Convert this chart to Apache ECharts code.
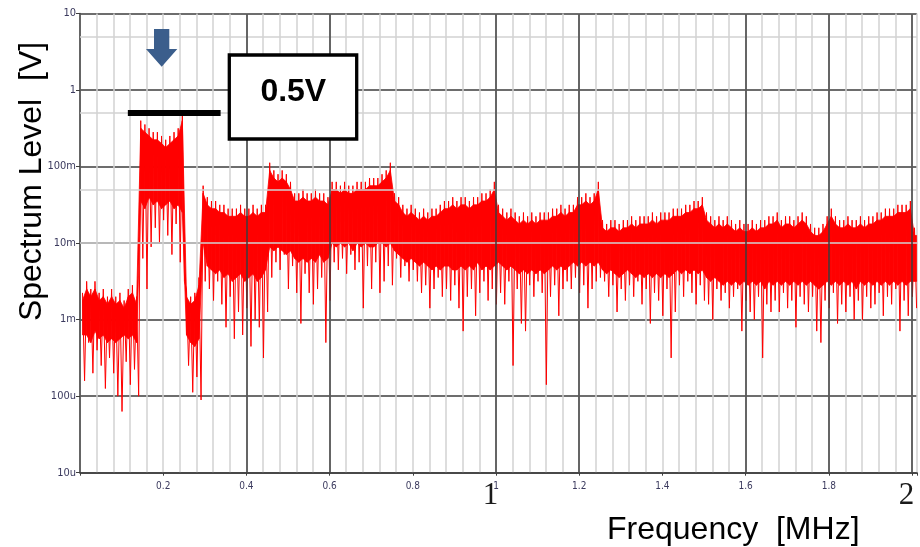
<!DOCTYPE html>
<html>
<head>
<meta charset="utf-8">
<script src="https://cdn.jsdelivr.net/npm/echarts@6/dist/echarts.min.js"></script>
<style>
  html, body { margin: 0; padding: 0; background: #fff; }
  #chart { width: 920px; height: 547px; }
</style>
</head>
<body>
<div id="chart"></div>
<script>
// Spectrum sweep: 0.01 MHz bins starting at 6 kHz, levels in dBV
const SWEEP_START_MHZ = 0.006;
const BIN_MHZ = 0.01;

// Upper envelope of each bin (dBV)
const peakDbv = [
  -53,-50,-52,-50,-53,-52,-54,-52,-54,-53,-55,-52,-51,-54,
  -8,-9,-10,-11,-11,-12,-13,-12,-11,-10,-6,
  -52,-54,-53,-49,
  -25,-28,-29,-29,-30,-30,-31,-31,-31,-30,-31,-31,-30,-31,-30,-30,
  -19,-21,-22,-21,-22,-24,-27,-27,-26,-27,-27,-26,-27,-27,-28,
  -24,-24,-25,-24,-25,-25,-24,-24,-24,-23,-23,-23,-22,-21,-19,
  -27,-28,-30,-31,-30,-31,-32,-31,-32,-31,-31,-30,-29,-29,-28,-29,-28,-28,-29,-28,-28,-27,-27,-26,-24,
  -30,-31,-32,-31,-32,-33,-32,-33,-32,-33,-32,-32,-32,-31,-31,-30,-31,-30,-30,-28,-28,-27,-28,-27,-24,
  -34,-35,-34,-34,-35,-34,-34,-33,-34,-33,-33,-33,-32,-33,-32,-32,-32,-31,-31,-31,-30,-30,-29,-29,-28,
  -32,-33,-34,-33,-34,-33,-34,-35,-34,-35,
  -35,-34,-35,-34,-34,-33,-33,-32,-34,-33,
  -33,-34,-33,-32,-33,-35,-36,-36,-35,-33,
  -31,-33,-34,-34,-33,-34,-34,-33,-34,-33,
  -33,-32,-32,-31,-31,-31,-30,-30,-30,-29,
  -36
];

// Lower edge of the dense noise band in each bin (dBV)
const floorDbv = [
  -64,-64,-66,-63,-65,-64,-66,-65,-66,-65,-64,-65,-64,-66,
  -29,-31,-28,-30,-29,-31,-30,-29,-31,-30,-32,
  -64,-66,-67,-65,
  -40,-46,-47,-48,-47,-49,-48,-50,-49,-48,-50,-49,-48,-50,-49,-47,
  -41,-42,-41,-42,-43,-42,-44,-45,-44,-45,-44,-45,-43,-45,-44,
  -40,-41,-40,-41,-40,-42,-40,-41,-40,-41,-41,-40,-40,-41,-40,
  -42,-43,-44,-45,-44,-45,-46,-45,-46,-47,-46,-47,-46,-46,-47,-47,-46,-47,-46,-47,-45,-47,-46,-47,-46,
  -45,-46,-47,-46,-47,-48,-47,-48,-47,-48,-47,-48,-47,-46,-47,-46,-47,-46,-45,-46,-45,-46,-45,-46,-45,
  -47,-48,-47,-48,-49,-48,-47,-48,-49,-48,-49,-48,-49,-48,-49,-48,-49,-48,-47,-48,-47,-48,-47,-48,-47,
  -49,-50,-49,-50,-51,-50,-51,-50,-51,-50,
  -51,-50,-51,-50,-52,-50,-51,-50,-51,-50,
  -51,-50,-51,-50,-51,-50,-51,-52,-51,-50,
  -51,-50,-51,-50,-51,-50,-52,-50,-51,-50,
  -51,-50,-51,-50,-51,-50,-51,-50,-51,-50,
  -50
];

// Deepest dip reached within each bin (dBV)
const dipDbv = [
  -76,-66,-74,-68,-72,-78,-70,-74,-80,-84,-71,-77,-73,-80,
  -44,-52,-41,-36,-40,-34,-38,-43,-35,-45,-50,
  -72,-79,-75,-81,
  -50,-52,-55,-50,-56,-62,-54,-65,-58,-64,-57,-67,-60,-62,-70,-58,
  -49,-45,-47,-43,-52,-46,-53,-61,-48,-53,-56,-52,-49,-66,-55,
  -45,-47,-44,-48,-43,-47,-45,-57,-46,-52,-45,-53,-50,-46,-51,
  -44,-49,-46,-50,-47,-50,-53,-51,-57,-52,-49,-54,-52,-55,-51,-57,-63,-54,-52,-59,-53,-50,-55,-52,-56,
  -53,-56,-50,-72,-52,-61,-63,-51,-54,-50,-53,-77,-54,-51,-59,-52,-50,-52,-49,-53,-51,-57,-52,-50,-49,
  -50,-54,-51,-58,-52,-55,-51,-54,-50,-56,-52,-61,-53,-55,-59,-52,-70,-58,-51,-54,-50,-53,-56,-51,-55,
  -56,-60,-52,-55,-53,-57,-54,-52,-63,-55,
  -58,-60,-54,-70,-56,-58,-55,-58,-53,-57,
  -55,-62,-54,-56,-58,-54,-63,-66,-55,-57,
  -53,-61,-56,-58,-54,-60,-55,-60,-54,-57,
  -56,-53,-59,-54,-56,-52,-63,-55,-59,-54,
  -57
];

// Axis tick labels
const yTickLabels = ['10u', '100u', '1m', '10m', '100m', '1', '10'];
const xTickLabels = ['', '0.2', '0.4', '0.6', '0.8', '1', '1.2', '1.4', '1.6', '1.8', ''];
const xBigLabels = ['', '', '', '', '', '1', '', '', '', '', '2'];

// Grid lines
const halfDecadeVolts = [5e-5, 5e-4, 5e-3, 5e-2, 0.5, 5];
const heavyFreqLinesMHz = [0.4, 0.6, 1.0, 1.2, 1.6, 1.8, 2.0];

// Limit marker
const limitVolts = 0.5;
const limitSpanMHz = [0.115, 0.338];
const limitText = '0.5V';

// The solid part of the band stops a little under the spike tips
const SOLID_BELOW_PEAK_DB = 2;

const toVolts = d => Math.pow(10, d / 20);
const binFreq = i => SWEEP_START_MHZ + BIN_MHZ * i;

// [frequency, solid-top volts, floor volts] per bin
const bandItems = peakDbv.map((d, i) => [binFreq(i), toVolts(d - SOLID_BELOW_PEAK_DB), toVolts(floorDbv[i])]);
// Trace alternates between each bin's peak and its dip half a bin later
const traceData = [];
peakDbv.forEach((d, i) => {
  traceData.push([binFreq(i), toVolts(d)]);
  traceData.push([binFreq(i) + BIN_MHZ / 2, toVolts(dipDbv[i])]);
});

const RED = '#ff0000';
const DARK = '#3d3d3d';
const LIGHT = '#d2d2d2';
const TICK_FONT = '"Liberation Sans Narrow", "DejaVu Sans Condensed", "Liberation Sans", sans-serif';
const TICK_COLOR = '#3b3a5e';

const labelFor = (arr) => (v) => {
  const k = Math.round(v / 0.2);
  return Math.abs(v - k * 0.2) < 1e-6 && arr[k] !== undefined ? arr[k] : '';
};

const chart = echarts.init(document.getElementById('chart'), null, { renderer: 'canvas' });

chart.setOption({
  animation: false,
  backgroundColor: '#fff',
  grid: { left: 80, right: 1.7, top: 13.5, bottom: 74.3, containLabel: false },
  xAxis: [
    {
      type: 'value', min: 0, max: 2.012, interval: 0.2,
      axisLine: { show: true, onZero: false, lineStyle: { color: DARK, width: 1.5 } },
      axisTick: { show: true, length: 3, lineStyle: { color: DARK } },
      splitLine: { show: true, lineStyle: { color: LIGHT, width: 1.5 } },
      minorTick: { show: false, splitNumber: 5 },
      minorSplitLine: { show: true, lineStyle: { color: LIGHT, width: 1.5 } },
      axisLabel: {
        formatter: labelFor(xTickLabels), margin: 9,
        fontSize: 10, fontFamily: TICK_FONT, color: TICK_COLOR
      }
    },
    {
      type: 'value', min: 0, max: 2.012, interval: 0.2, position: 'bottom',
      axisLine: { show: false }, axisTick: { show: false }, splitLine: { show: false },
      axisLabel: {
        formatter: labelFor(xBigLabels), margin: 8, padding: [0, 11, 0, 0],
        fontSize: 31, fontFamily: '"Liberation Serif", "DejaVu Serif", serif', color: '#1a1a1a'
      }
    }
  ],
  yAxis: {
    type: 'log', logBase: 10, min: 1e-5, max: 10, interval: 1, splitNumber: 6,
    axisLine: { show: true, lineStyle: { color: DARK, width: 1.5 } },
    axisTick: { show: true, length: 4, lineStyle: { color: DARK } },
    splitLine: { show: true, lineStyle: { color: DARK, width: 1.5 } },
    axisLabel: {
      formatter: v => yTickLabels[Math.round(Math.log10(v)) + 5] || '',
      margin: 4, fontSize: 11, fontFamily: TICK_FONT, color: TICK_COLOR
    }
  },
  series: [
    {
      // carries the extra grid lines beneath the trace
      name: 'grid', type: 'line', data: [], symbol: 'none', silent: true, z: 1,
      markLine: {
        silent: true, symbol: ['none', 'none'], label: { show: false }, animation: false,
        lineStyle: { type: 'solid' },
        data: [
          ...halfDecadeVolts.map(v => ({ yAxis: v, lineStyle: { color: LIGHT, width: 1.5, type: 'solid' } })),
          ...heavyFreqLinesMHz.map(f => ({ xAxis: f, lineStyle: { color: DARK, width: 1.5, type: 'solid' } }))
        ]
      }
    },
    {
      // dense noise band between floor and the solid top
      name: 'band', type: 'custom', data: bandItems, silent: true, z: 2,
      encode: { x: 0, y: [1, 2] },
      renderItem: (params, api) => {
        const i = params.dataIndex;
        const last = i + 1 >= bandItems.length;
        const next = last ? bandItems[i] : bandItems[i + 1];
        const f0 = api.value(0);
        const f1 = last ? f0 + BIN_MHZ / 2 : next[0];
        const pts = [
          api.coord([f0, api.value(1)]),
          api.coord([f1, next[1]]),
          api.coord([f1, next[2]]),
          api.coord([f0, api.value(2)])
        ];
        return { type: 'polygon', shape: { points: pts }, style: { fill: RED, stroke: RED, lineWidth: 0.8 } };
      }
    },
    {
      name: 'trace', type: 'line', data: traceData,
      symbol: 'none', silent: true, z: 3,
      lineStyle: { color: RED, width: 1 },
      markLine: {
        silent: true, symbol: ['none', 'none'], label: { show: false }, animation: false,
        data: [[
          { coord: [limitSpanMHz[0], limitVolts] },
          { coord: [limitSpanMHz[1], limitVolts] }
        ]],
        lineStyle: { color: '#000', width: 6, type: 'solid' }
      }
    }
  ],
  graphic: [
    {
      type: 'polygon', z: 100, silent: true,
      shape: { points: [[154, 29], [169.3, 29], [169.3, 49], [177.3, 49], [161.7, 66.7], [146, 49], [154, 49]] },
      style: { fill: '#3b5e8c' }
    },
    {
      type: 'rect', z: 100, silent: true,
      shape: { x: 229.3, y: 55, width: 127.4, height: 84 },
      style: { fill: '#fff', stroke: '#000', lineWidth: 3.3 }
    },
    {
      type: 'text', z: 101, silent: true, x: 293.3, y: 92.5,
      style: {
        text: limitText, fill: '#000', align: 'center', verticalAlign: 'middle',
        font: 'bold 32px "Liberation Sans", Arial, sans-serif'
      }
    },
    {
      type: 'text', z: 101, silent: true, x: 32, y: 181.5, rotation: Math.PI / 2,
      style: {
        text: 'Spectrum Level  [V]', fill: '#000', align: 'center', verticalAlign: 'middle',
        font: '32px "Liberation Sans", Arial, sans-serif'
      }
    },
    {
      type: 'text', z: 101, silent: true, x: 607, y: 530,
      style: {
        text: 'Frequency  [MHz]', fill: '#000', align: 'left', verticalAlign: 'middle',
        font: '32px "Liberation Sans", Arial, sans-serif'
      }
    }
  ]
});
</script>
</body>
</html>
